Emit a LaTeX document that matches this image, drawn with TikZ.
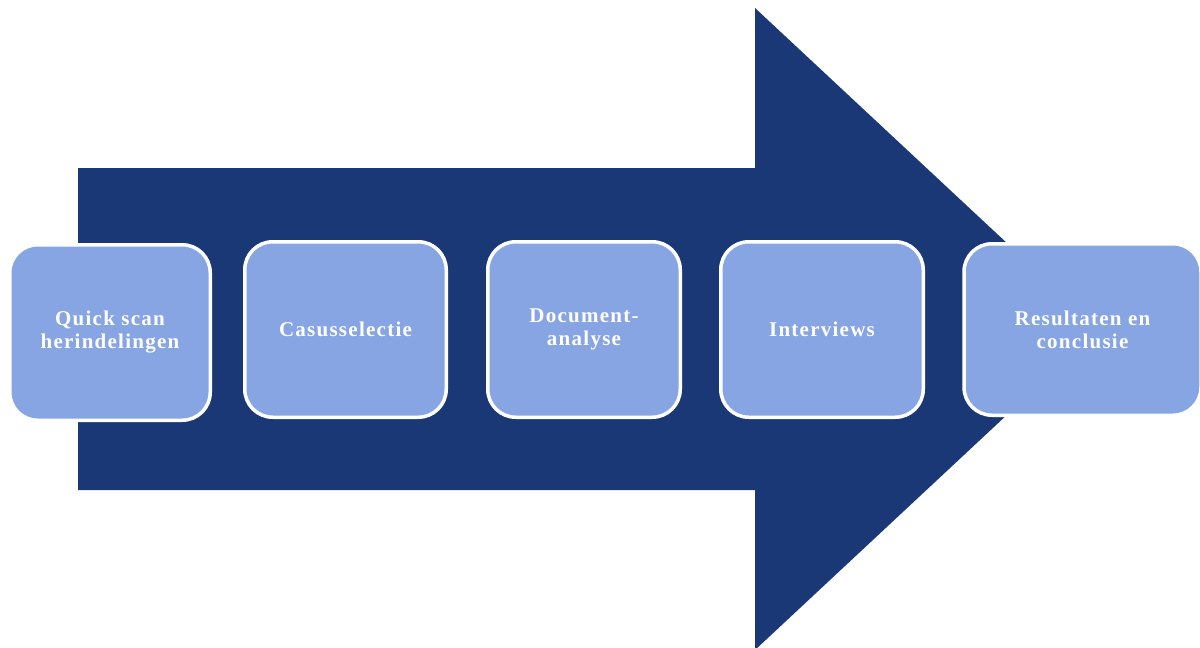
\documentclass[tikz,border=0pt]{standalone}
\usepackage{fontspec}
\setmainfont{Liberation Serif}[LetterSpace=6]
\definecolor{navy}{RGB}{27,56,118}
\definecolor{boxfill}{RGB}{135,165,227}
\tikzset{
  stepbox/.style={draw=white, line width=3.5pt, fill=boxfill, rounded corners=28pt,
    text=white, font=\fontsize{21}{23}\selectfont\bfseries, align=center,
    inner sep=0pt}
}
\begin{document}
\begin{tikzpicture}[x=1pt,y=-1pt]
\clip (0,0) rectangle (1200,648);
\fill[white] (0,0) rectangle (1200,648);
\fill[navy] (78,168) -- (755,168) -- (755,8) -- (1099,329) -- (755,650) -- (755,490) -- (78,490) -- cycle;
\node[stepbox, minimum width=200.5pt, minimum height=175.5pt] (b1) at (110,332.5) {Quick scan\\herindelingen};
\node[stepbox, minimum width=201.5pt, minimum height=175.5pt] (b2) at (345.5,329.5) {Casusselectie};
\node[stepbox, minimum width=192.5pt, minimum height=175.5pt] (b3) at (584,329.5) {Document-\\analyse};
\node[stepbox, minimum width=202.5pt, minimum height=175.5pt] (b4) at (822,329.5) {Interviews};
\node[stepbox, minimum width=237pt, minimum height=171.5pt] (b5) at (1082.5,329.5) {Resultaten en\\conclusie};
\end{tikzpicture}
\end{document}
